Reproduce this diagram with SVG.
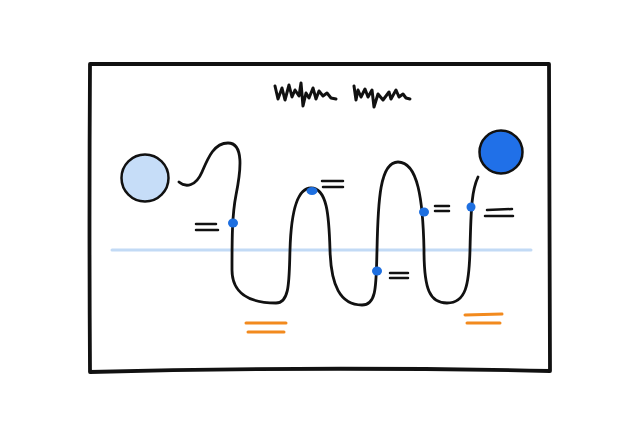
<svg xmlns="http://www.w3.org/2000/svg" width="640" height="435" viewBox="0 0 640 435">
<style>
.ink{fill:none;stroke:#111;stroke-linecap:round;stroke-linejoin:round}
.eq{fill:none;stroke:#111;stroke-width:2.5;stroke-linecap:round}
.or{fill:none;stroke:#f28a1e;stroke-width:3;stroke-linecap:round}
.dot{fill:#1e6fe0}
</style>
<rect width="640" height="435" fill="#fff"/>
<g id="frame">
<path class="ink" stroke-width="3.8" d="M90 64 L549 64 Q550 200 550 371 Q320 366 90 372 Q89 220 90 64 Z"/>
</g>
<g id="title-scribble">
<path class="ink" stroke-width="3" d="M275 86 L278 99 L282 88 L285 100 L289 85 L292 97 L295 90 L299 96 L301 83 L303 106 L306 93 L309 98 L313 88 L316 99 L319 91 L323 96 L327 93 L331 98 L336 99"/>
<path class="ink" stroke-width="3" d="M354 86 L356 100 L358 90 L361 97 L365 89 L368 97 L372 90 L374 107 L378 94 L383 100 L389 92 L391 99 L396 90 L399 97 L403 94 L406 98 L410 99"/>
</g>
<g id="guide-line">
<line x1="112" y1="250" x2="531" y2="250" stroke="#c2daf5" stroke-width="3" stroke-linecap="round"/>
</g>
<g id="start-circle">
<circle cx="145" cy="178" r="23.5" fill="#c6ddf8" stroke="#111" stroke-width="2.5"/>
</g>
<g id="end-circle">
<circle cx="501" cy="152" r="21.5" fill="#2070e8" stroke="#111" stroke-width="2.5"/>
</g>
<g id="path-curve">
<path class="ink" stroke-width="2.8" d="M179 182 C186 188 196 186 202 172 C208 158 214 143 228 143 C244 143 241 170 236 195 C232 215 232 240 232 270 C232 292 248 303 276 303 C290 303 289 280 290 250 C291 215 296 188 311 188 C327 188 329 215 330 250 C331 285 340 305 362 305 C377 305 376 285 377 250 C378 200 380 162 398 162 C418 162 423 200 424 250 C424 290 430 303 447 303 C466 303 469 285 470 250 C471 205 472 190 478 177"/>
</g>
<g id="dots">
<ellipse class="dot" cx="233" cy="223" rx="5" ry="4.5"/>
<ellipse class="dot" cx="312" cy="191" rx="5.5" ry="4"/>
<ellipse class="dot" cx="377" cy="271" rx="5" ry="4.5"/>
<ellipse class="dot" cx="424" cy="212" rx="5" ry="4.5"/>
<ellipse class="dot" cx="471" cy="207" rx="4.5" ry="4.5"/>
</g>
<g id="equals">
<path class="eq" d="M196 224 L216 224 M196 230 L218 230"/>
<path class="eq" d="M322 181 L343 181 M323 187 L343 187"/>
<path class="eq" d="M390 273 L408 273 M390 278 L408 278"/>
<path class="eq" d="M435 206 L449 206 M435 211 L449 211"/>
<path class="eq" d="M487 210 L512 209 M485 216 L513 216"/>
</g>
<g id="orange-equals">
<path class="or" d="M246 323 L286 323 M248 332 L284 332"/>
<path class="or" d="M465 315 L502 314 M467 323 L500 323"/>
</g>
</svg>
